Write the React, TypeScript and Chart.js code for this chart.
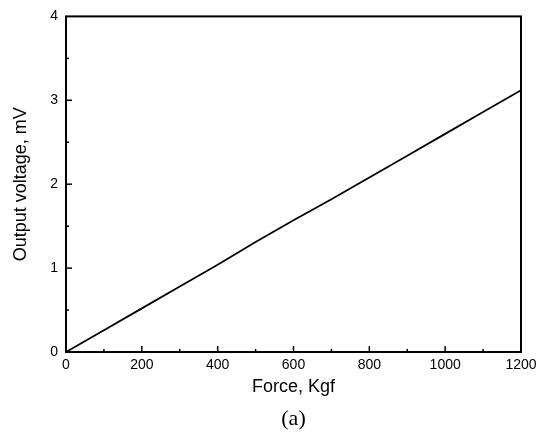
import React, { useEffect, useRef } from "react";
import { Chart, registerables } from "chart.js";

Chart.register(...registerables);

const forceKgf = [0, 100, 200, 300, 400, 500, 600, 700, 800, 900, 1000, 1100, 1200];
const outputMv = [0, 0.26, 0.52, 0.78, 1.04, 1.31, 1.57, 1.82, 2.08, 2.34, 2.6, 2.86, 3.12];
const xTitle = "Force, Kgf";
const yTitle = "Output voltage, mV";
const caption = "(a)";

const SANS = "'Liberation Sans', Arial, sans-serif";

const framePlugin = {
  id: "frameTicks",
  afterDraw(chart: any) {
    const { ctx, chartArea: a, scales } = chart;
    ctx.save();
    ctx.strokeStyle = "#000";
    ctx.lineWidth = 2;
    ctx.strokeRect(a.left, a.top, a.right - a.left, a.bottom - a.top);
    ctx.lineWidth = 1.5;
    const xs = scales.x;
    xs.ticks.forEach((t: any) => {
      const px = xs.getPixelForValue(t.value);
      const major = Math.round(t.value) % 200 === 0;
      if (t.value <= xs.min || t.value >= xs.max) return;
      ctx.beginPath();
      ctx.moveTo(px, a.bottom);
      ctx.lineTo(px, a.bottom - (major ? 6 : 3));
      ctx.stroke();
    });
    const ys = scales.y;
    ys.ticks.forEach((t: any) => {
      const py = ys.getPixelForValue(t.value);
      const major = Math.abs(t.value - Math.round(t.value)) < 1e-6;
      if (t.value <= ys.min || t.value >= ys.max) return;
      ctx.beginPath();
      ctx.moveTo(a.left, py);
      ctx.lineTo(a.left + (major ? 6 : 3), py);
      ctx.stroke();
    });
    ctx.fillStyle = "#000";
    ctx.font = "22px 'Liberation Serif', 'Times New Roman', serif";
    ctx.textAlign = "center";
    ctx.textBaseline = "middle";
    ctx.fillText(caption, (a.left + a.right) / 2, 419);
    ctx.restore();
  },
};

export default function App() {
  const ref = useRef<HTMLCanvasElement | null>(null);
  useEffect(() => {
    if (!ref.current) return;
    const chart = new Chart(ref.current, {
      type: "line",
      data: {
        datasets: [
          {
            data: forceKgf.map((f, i) => ({ x: f, y: outputMv[i] })),
            borderColor: "#000",
            borderWidth: 1.8,
            pointRadius: 0,
            tension: 0,
            fill: false,
          },
        ],
      },
      options: {
        responsive: false,
        animation: false,
        events: [],
        layout: { padding: { left: 0, top: 14, right: 29, bottom: 0 } },
        plugins: { legend: { display: false }, tooltip: { enabled: false }, title: { display: false } },
        scales: {
          x: {
            type: "linear",
            min: 0,
            max: 1200,
            grid: { display: false, drawTicks: false },
            border: { display: false },
            ticks: {
              stepSize: 100,
              padding: 5,
              color: "#000",
              font: { family: SANS, size: 14 },
              maxRotation: 0,
              autoSkip: false,
              callback: (v: any) => (Math.round(v) % 200 === 0 ? String(v) : ""),
            },
            title: {
              display: true,
              text: xTitle,
              color: "#000",
              font: { family: SANS, size: 18 },
              padding: { top: 0, bottom: 39 },
            },
            afterFit: (s: any) => {
              s.height = 85;
            },
          },
          y: {
            type: "linear",
            min: 0,
            max: 4,
            grid: { display: false, drawTicks: false },
            border: { display: false },
            ticks: {
              stepSize: 0.5,
              padding: 8,
              color: "#000",
              font: { family: SANS, size: 14 },
              autoSkip: false,
              callback: (v: any) => (Math.abs(v - Math.round(v)) < 1e-6 ? String(Math.round(v)) : ""),
            },
            title: {
              display: true,
              text: yTitle,
              color: "#000",
              font: { family: SANS, size: 18 },
              padding: { top: 10, bottom: 0 },
            },
            afterFit: (s: any) => {
              s.width = 66;
            },
          },
        },
      },
      plugins: [framePlugin],
    });
    return () => chart.destroy();
  }, []);
  return (
    <div style={{ position: "fixed", left: 0, top: 0, width: 550, height: 437, background: "#fff" }}>
      <canvas ref={ref} width={550} height={437} />
    </div>
  );
}
